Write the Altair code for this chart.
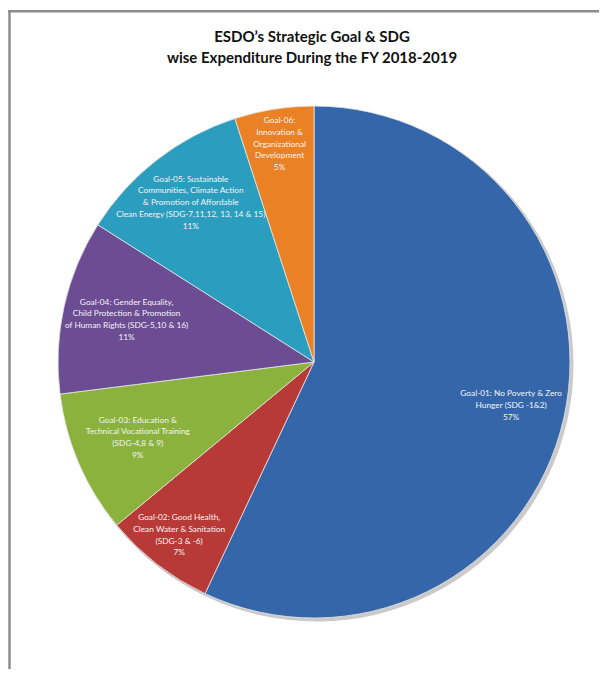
import altair as alt
import pandas as pd

goals = ["Goal-01", "Goal-02", "Goal-03", "Goal-04", "Goal-05", "Goal-06"]
percent = [57, 7, 9, 11, 11, 5]
labels = [
    "Goal-01: No Poverty & Zero\nHunger  (SDG -1&2)\n57%",
    "Goal-02:  Good Health,\nClean Water & Sanitation\n(SDG-3 & -6)\n7%",
    "Goal-03:  Education &\nTechnical Vocational  Training\n(SDG-4,8 & 9)\n9%",
    "Goal-04:  Gender Equality,\nChild Protection & Promotion\nof Human Rights  (SDG-5,10 & 16)\n11%",
    "Goal-05:  Sustainable\nCommunities, Climate  Action\n& Promotion of Affordable\nClean Energy (SDG-7,11,12, 13, 14 & 15)\n11%",
    "Goal-06:\nInnovation &\nOrganizational\nDevelopment\n5%",
]
colors = ["#3566A9", "#B83A37", "#8CB23E", "#6C4C93", "#2B9EBF", "#EB8125"]
title_lines = "ESDO\u2019s Strategic Goal & SDG\nwise Expenditure During the FY 2018-2019"

df = pd.DataFrame({"goal": goals, "pct": percent, "label": labels,
                   "idx": list(range(len(goals)))})

CX, CY, R = 306, 354, 256
LH = 11.7

shadow = alt.Chart(df).mark_arc(outerRadius=R + 1, x=CX + 2.5, y=CY + 2.5,
                                color="#8a8a8a", opacity=0.45).encode(
    theta=alt.Theta("pct:Q", stack=True),
    order=alt.Order("idx:Q"),
)

pie = alt.Chart(df).mark_arc(outerRadius=R, stroke="#e6e6e6", strokeWidth=0.8,
                             x=CX, y=CY).encode(
    theta=alt.Theta("pct:Q", stack=True),
    order=alt.Order("idx:Q"),
    color=alt.Color("goal:N", scale=alt.Scale(domain=goals, range=colors), legend=None),
)

text = alt.Chart(df).transform_window(
    cum="sum(pct)", sort=[alt.SortField("idx")],
    frame=[None, 0],
).transform_joinaggregate(
    total="sum(pct)"
).transform_calculate(
    mid="(datum.cum - datum.pct / 2) / datum.total * 2 * PI",
    lr="datum.pct < 8 ? 220 : datum.pct > 50 ? 202 : datum.idx == 4 ? 201 : 192",
    nl="split(datum.label, '\\n').length",
).transform_calculate(
    px=f"{CX} + datum.lr * sin(datum.mid)",
    py=f"{CY} - datum.lr * cos(datum.mid) - (datum.nl - 1) * {LH} / 2",
).mark_text(
    font="Lato", fontSize=8.3, lineHeight=LH, color="#f4f4f4",
    align="center", baseline="middle", lineBreak="\n"
).encode(
    text="label:N",
    x=alt.X("px:Q", scale=None, axis=None),
    y=alt.Y("py:Q", scale=None, axis=None),
)

deco = pd.DataFrame({"t": [title_lines]})
title = alt.Chart(deco).mark_text(
    font="Lato", fontSize=15, fontWeight="bold", color="#111111",
    align="center", baseline="middle", lineBreak="\n", lineHeight=21
).encode(text="t:N", x=alt.value(304), y=alt.value(29))

top_rule = alt.Chart(deco).mark_rule(color="#8c8c8c", strokeWidth=2.5).encode(
    x=alt.value(0.3), x2=alt.value(591), y=alt.value(3.2))
left_rule = alt.Chart(deco).mark_rule(color="#8c8c8c", strokeWidth=2.5).encode(
    x=alt.value(1.5), y=alt.value(2), y2=alt.value(661))

chart = alt.layer(shadow, pie, text, title, top_rule, left_rule).properties(
    width=591, height=661,
    autosize=alt.AutoSizeParams(type="none"),
    padding=0,
    background="white",
).configure_view(strokeWidth=0)

chart.save("out.html", embed_options={"renderer": "svg", "actions": False})
